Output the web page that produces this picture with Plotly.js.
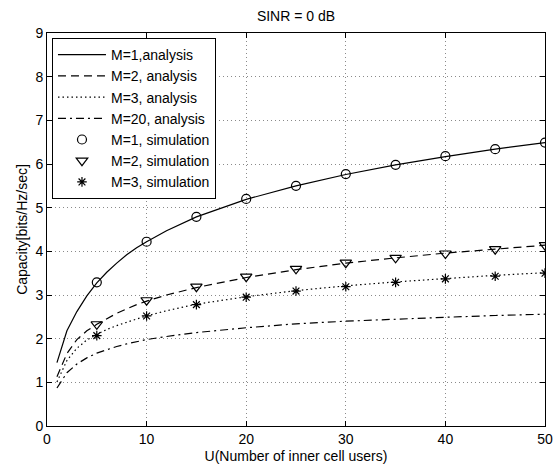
<!DOCTYPE html>
<html>
<head>
<meta charset="utf-8">
<script src="https://cdn.plot.ly/plotly-3.0.1.min.js"></script>
<style>html,body{margin:0;padding:0;background:#fff;}#chart{width:559px;height:466px;}</style>
</head>
<body>
<div id="chart"></div>
<script>
// Analysis curves
var uAnalysis = [1, 2, 3, 4, 5, 6, 7, 8, 9, 10, 12, 15, 20, 25, 30, 35, 40, 45, 50];
var m1Analysis = [1.45, 2.18, 2.62, 2.98, 3.28, 3.52, 3.73, 3.92, 4.08, 4.22, 4.47, 4.79, 5.19, 5.50, 5.76, 5.98, 6.17, 6.34, 6.49];
var m2Analysis = [1.13, 1.66, 1.98, 2.18, 2.33, 2.46, 2.58, 2.68, 2.78, 2.86, 3.00, 3.17, 3.40, 3.58, 3.73, 3.85, 3.96, 4.05, 4.14];
var m3Analysis = [1.01, 1.50, 1.78, 1.97, 2.10, 2.21, 2.30, 2.38, 2.45, 2.52, 2.64, 2.79, 2.96, 3.10, 3.21, 3.30, 3.38, 3.45, 3.51];
var m20Analysis = [0.87, 1.22, 1.42, 1.56, 1.67, 1.75, 1.82, 1.88, 1.93, 1.98, 2.05, 2.14, 2.25, 2.34, 2.40, 2.45, 2.49, 2.53, 2.56];

// Simulation points
var uSim = [5, 10, 15, 20, 25, 30, 35, 40, 45, 50];
var m1Sim = [3.29, 4.22, 4.79, 5.20, 5.50, 5.77, 5.98, 6.18, 6.34, 6.49];
var m2Sim = [2.33, 2.88, 3.19, 3.42, 3.60, 3.74, 3.85, 3.95, 4.05, 4.14];
var m3Sim = [2.07, 2.52, 2.78, 2.95, 3.09, 3.19, 3.29, 3.37, 3.43, 3.50];

var names = ["M=1,analysis", "M=2, analysis", "M=3, analysis", "M=20, analysis",
             "M=1, simulation", "M=2, simulation", "M=3, simulation"];

var FONT = "Liberation Sans, Arial, Helvetica, sans-serif";

function lineTrace(y, name, dash) {
  return {x: uAnalysis, y: y, name: name, mode: "lines",
          line: {color: "#000", width: 1.2, dash: dash}};
}
function markTrace(y, name, symbol, size) {
  return {x: uSim, y: y, name: name, mode: "markers",
          marker: {symbol: symbol, size: size, color: "#000",
                   line: {color: "#000", width: 1.2}}};
}

var data = [
  lineTrace(m1Analysis, names[0], "solid"),
  lineTrace(m2Analysis, names[1], "8px,5px"),
  lineTrace(m3Analysis, names[2], "1.5px,3px"),
  lineTrace(m20Analysis, names[3], "8px,4px,2px,4px"),
  markTrace(m1Sim, names[4], "circle-open", 9),
  markTrace(m2Sim, names[5], "triangle-down-open", 10),
  markTrace(m3Sim, names[6], "asterisk-open", 8)
];

var axisCommon = {
  showline: true, linecolor: "#000", linewidth: 1, mirror: "ticks",
  ticks: "inside", ticklen: 5, tickcolor: "#000", tickwidth: 1,
  showgrid: true, gridcolor: "#8a8a8a", gridwidth: 1, griddash: "1px,3px",
  zeroline: false, tickfont: {family: FONT, size: 14, color: "#000"}
};

var layout = {
  width: 559, height: 466,
  margin: {l: 47, r: 14, t: 33, b: 40},
  paper_bgcolor: "#fff", plot_bgcolor: "#fff",
  font: {family: FONT, size: 14, color: "#000"},
  title: {text: "SINR = 0 dB", font: {family: FONT, size: 14, color: "#000"},
          x: 0.5, xref: "paper", y: 0.966, yref: "container", yanchor: "middle"},
  xaxis: Object.assign({}, axisCommon, {
    range: [0, 50], dtick: 10, tick0: 0,
    title: {text: "U(Number of inner cell users)", font: {family: FONT, size: 14, color: "#000"}, standoff: 5}
  }),
  yaxis: Object.assign({}, axisCommon, {
    range: [0, 9], dtick: 1, tick0: 0,
    title: {text: "Capacity[bits/Hz/sec]", font: {family: FONT, size: 14, color: "#000"}, standoff: 4}
  }),
  showlegend: true,
  legend: {x: 0.01, xanchor: "left", y: 0.987, yanchor: "top",
           bgcolor: "#fff", bordercolor: "#000", borderwidth: 1,
           font: {family: FONT, size: 14, color: "#000"},
           itemwidth: 48}
};

Plotly.newPlot("chart", data, layout, {staticPlot: true, displayModeBar: false});
</script>
</body>
</html>
